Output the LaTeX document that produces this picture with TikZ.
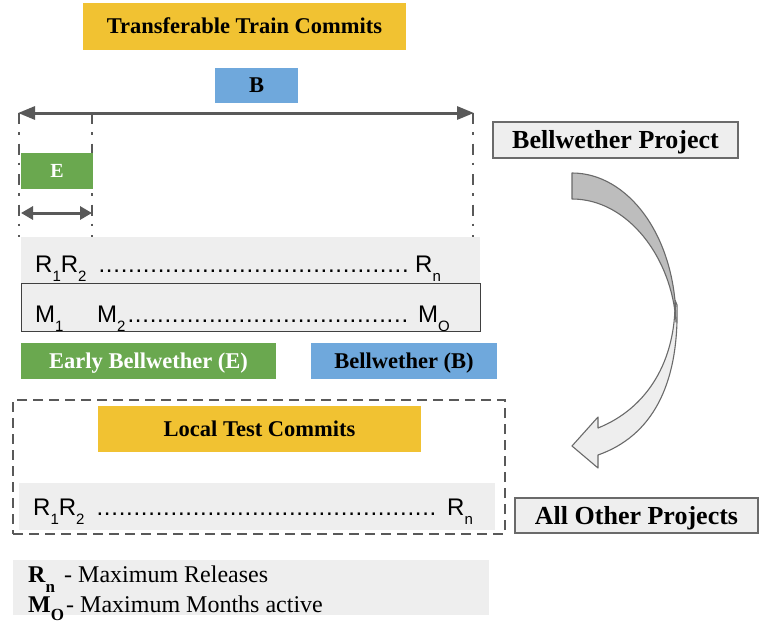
\documentclass[tikz,border=0pt]{standalone}
\usepackage{fontspec}
\setmainfont{Liberation Serif}
\newfontfamily\arialf{Liberation Sans}
\usetikzlibrary{arrows.meta}
\definecolor{ylw}{HTML}{F1C232}
\definecolor{blu}{HTML}{6FA8DC}
\definecolor{grn}{HTML}{6AA84F}
\definecolor{dgray}{HTML}{595959}
\definecolor{bandc}{HTML}{EEEEEE}
\definecolor{darkarc}{HTML}{BDBDBD}
\newcommand\sbs[1]{\raisebox{-9pt}{\fontsize{15}{15}\selectfont #1}}
\newcommand\dotrow[1]{\hbox to #1{\leaders\hbox to 7.4pt{\hss.\hss}\hfill}}
\begin{document}
\begin{tikzpicture}[x=1pt,y=-1pt,
  filled/.style={inner sep=0pt, outer sep=0pt, minimum width=#1},
  ttl/.style={font=\fontsize{22.5}{26}\selectfont\bfseries, text height=14.9pt, text depth=0pt},
  proj/.style={draw=dgray!90, line width=1.2pt, fill=bandc, inner sep=0pt,
    font=\fontsize{26}{30}\selectfont\bfseries, text height=17.2pt, text depth=0pt},
  rowtext/.style={font=\arialf\fontsize{24}{27}\selectfont, inner sep=0pt, anchor=base west},
  legtext/.style={font=\fontsize{24}{28}\selectfont, inner sep=0pt, anchor=base west},
  dim/.style={draw=dgray, line width=3pt, {Triangle[length=17pt,width=13pt]}-{Triangle[length=17pt,width=13pt]}, shorten <=-1pt, shorten >=-1pt},
  dimsmall/.style={draw=dgray, line width=3pt, {Triangle[length=12pt,width=13pt]}-{Triangle[length=12pt,width=13pt]}},
  ddot/.style={draw=dgray, line width=2.6pt, dash pattern=on 11pt off 8pt on 2.5pt off 9pt},
]
\useasboundingbox (0,0) rectangle (759,623);
\fill[white] (0,0) rectangle (759,623);

% top title and B
\node[filled=323pt, minimum height=47pt, fill=ylw, ttl] (ttc) at (244.5,26.5) {Transferable Train Commits};
\node[filled=83pt, minimum height=35pt, fill=blu, ttl] (bb) at (256.5,85.5) {B};

% dimension coordinates
\coordinate (bl) at (19,113);
\coordinate (br) at (473,113);
\coordinate (ml) at (92,113);
\coordinate (blb) at (19,237);
\coordinate (mlb) at (92,237);
\coordinate (brb) at (473,237);
\coordinate (el) at (21,213);
\coordinate (er) at (92,213);

\draw[ddot] (bl) -- (blb);
\draw[ddot] (ml) -- (mlb);
\draw[ddot] (br) -- (brb);

\draw[dim] (bl) -- (br);

\node[filled=72pt, minimum height=36pt, fill=grn, text=white, font=\fontsize{20}{24}\selectfont\bfseries, text height=13.2pt, text depth=0pt] (ee) at (57,171) {E};
\draw[dimsmall] (el) -- (er);

% R row
\node[filled=459pt, minimum height=46pt, fill=bandc] (band1) at (250.5,260) {};
\node[rowtext] (r1) at (35,272) {R\sbs{1}R\sbs{2}};
\node[rowtext] (d1) at (98,272) {\dotrow{312pt}};
\node[rowtext] (rn1) at (415,272) {R\sbs{n}};

% M row
\node[filled=459pt, minimum height=48pt, fill=bandc, draw=black!75, line width=1pt] (band2) at (250.5,307) {};
\node[rowtext] (m1) at (35,322) {M\sbs{1}};
\node[rowtext] (m2) at (97,322) {M\sbs{2}};
\node[rowtext] (d2) at (127,322) {\dotrow{283pt}};
\node[rowtext] (mo) at (418,322) {M\sbs{O}};

% E and B labels
\node[filled=255pt, minimum height=36pt, fill=grn, text=white, ttl] (ebw) at (148.5,361) {Early Bellwether (E)};
\node[filled=186pt, minimum height=36pt, fill=blu, ttl] (bw) at (404,361) {Bellwether (B)};

% local test block
\node[filled=492pt, minimum height=134pt, draw=dgray, line width=2.5pt, dash pattern=on 10pt off 6pt] (dash) at (259,467) {};
\node[filled=323pt, minimum height=46pt, fill=ylw, ttl] (ltc) at (259.5,429) {Local Test Commits};
\node[filled=476pt, minimum height=47pt, fill=bandc] (band3) at (257,506.5) {};
\node[rowtext] (r3) at (33,515) {R\sbs{1}R\sbs{2}};
\node[rowtext] (d3) at (96,515) {\dotrow{342pt}};
\node[rowtext] (rn3) at (447,515) {R\sbs{n}};

% legend
\node[filled=476pt, minimum height=55pt, fill=bandc] (leg) at (251,587.5) {};
\node[legtext] (lr) at (28,582) {\textbf{R}\raisebox{-10pt}{\fontsize{17}{17}\selectfont\bfseries n}};
\node[legtext] (lrt) at (64,582) {- Maximum Releases};
\node[legtext] (lm) at (28,612) {\textbf{M}\raisebox{-8pt}{\fontsize{17}{17}\selectfont\bfseries O}};
\node[legtext] (lmt) at (66,612) {- Maximum Months active};

% right side
\node[proj, minimum width=245pt, minimum height=36pt] (bp) at (615.5,140) {Bellwether Project};
\node[proj, minimum width=243pt, minimum height=35pt] (aop) at (636.5,515.5) {All Other Projects};

% curved arrow
\draw[draw=dgray!90, line width=1.1pt, fill=bandc, line join=round]
  (675,300) .. controls (676,360) and (648,408) .. (598,428)
  -- (598,417) -- (572,446) -- (598,468) -- (598,455)
  .. controls (652,436) and (679,385) .. (677,305) -- cycle;
\draw[draw=dgray!90, line width=1.1pt, fill=darkarc, line join=round]
  (572,173) .. controls (628,173) and (676,236) .. (676,322)
  .. controls (672,258) and (628,199) .. (572,199) -- cycle;
\end{tikzpicture}
\end{document}
